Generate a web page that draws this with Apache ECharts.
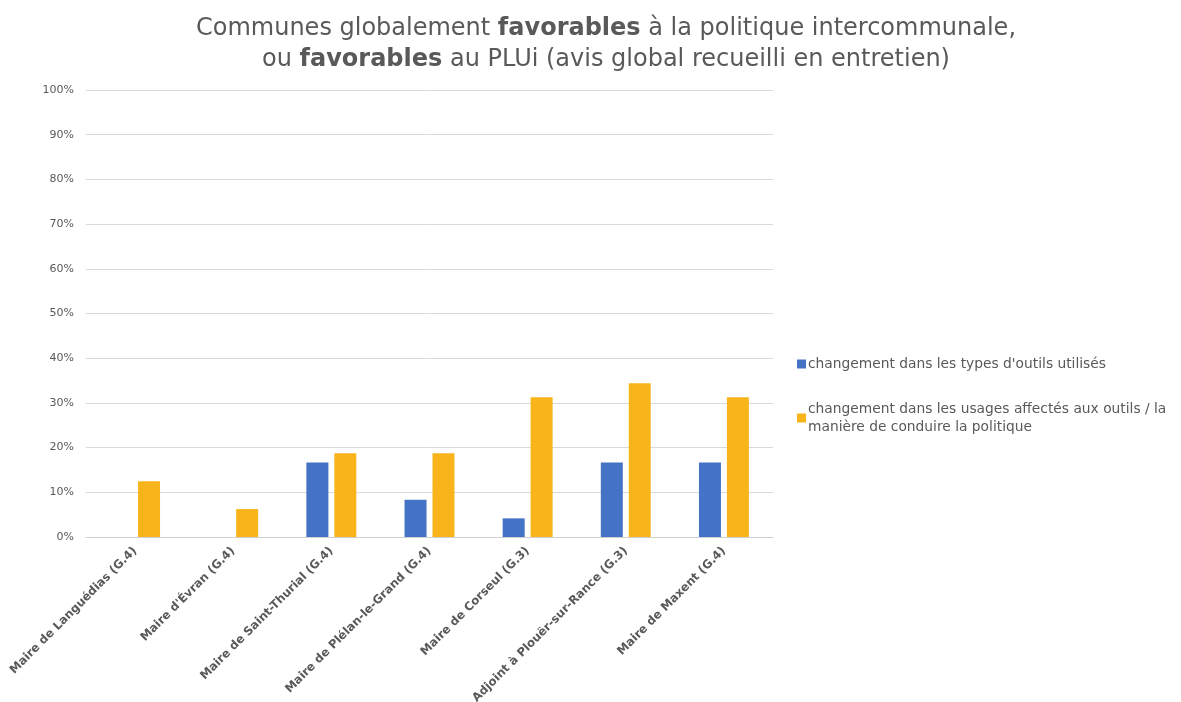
<!DOCTYPE html>
<html>
<head>
<meta charset="utf-8">
<script src="https://cdn.jsdelivr.net/npm/echarts@6/dist/echarts.min.js"></script>
<style>
  html, body { margin: 0; padding: 0; background: #fff; }
  #chart { width: 1181px; height: 702px; }
</style>
</head>
<body>
<div id="chart"></div>
<script>
// données (en %)
const communes = [
  'Maire de Languédias (G.4)',
  "Maire d'Évran (G.4)",
  'Maire de Saint-Thurial (G.4)',
  'Maire de Plélan-le-Grand (G.4)',
  'Maire de Corseul (G.3)',
  'Adjoint à Plouër-sur-Rance (G.3)',
  'Maire de Maxent (G.4)'
]
const typesOutils = [null, null, 16.67, 8.33, 4.17, 16.67, 16.67]
const usagesOutils = [12.5, 6.25, 18.75, 18.75, 31.25, 34.38, 31.25]
const serieNames = [
  "changement dans les types d'outils utilisés",
  'changement dans les usages affectés aux outils / la\nmanière de conduire la politique'
]

const font = '"DejaVu Sans", sans-serif'
const grey = '#595959'

const chart = echarts.init(document.getElementById('chart'))
chart.setOption({
  textStyle: { fontFamily: font },
  title: {
    text: 'Communes globalement {b|favorables} à la politique intercommunale,\nou {b|favorables} au PLUi (avis global recueilli en entretien)',
    left: 601, top: 8, textAlign: 'center',
    textStyle: {
      fontFamily: font, fontSize: 24, fontWeight: 'normal', color: grey, lineHeight: 31,
      rich: { b: { fontFamily: font, fontSize: 24, fontWeight: 'bold', color: grey, lineHeight: 31 } }
    }
  },
  legend: {
    orient: 'vertical', left: 797, top: 355, itemGap: 27, padding: 0,
    itemWidth: 9, itemHeight: 9, icon: 'rect',
    textStyle: { fontFamily: font, fontSize: 13.8, color: grey, lineHeight: 18, padding: [0, 0, 0, -3] },
    data: serieNames
  },
  grid: { left: 86, right: 408, top: 90, bottom: 165, outerBoundsMode: 'none' },
  xAxis: {
    type: 'category', data: communes,
    axisTick: { show: false },
    axisLine: { lineStyle: { color: '#d0d0d0', width: 1 } },
    axisLabel: { rotate: 45, interval: 0, fontSize: 11.7, fontWeight: 'bold', color: grey, margin: 12 }
  },
  yAxis: {
    type: 'value', min: 0, max: 100, interval: 10,
    axisLabel: { formatter: '{value}%', fontSize: 11, color: grey, margin: 12 },
    splitLine: { lineStyle: { color: '#d9d9d9', width: 1 } }
  },
  series: [
    { name: serieNames[0], type: 'bar', data: typesOutils, barWidth: 22, barGap: '27%', itemStyle: { color: '#4472C4' } },
    { name: serieNames[1], type: 'bar', data: usagesOutils, barWidth: 22, itemStyle: { color: '#F8B51B' } }
  ]
})
</script>
</body>
</html>
